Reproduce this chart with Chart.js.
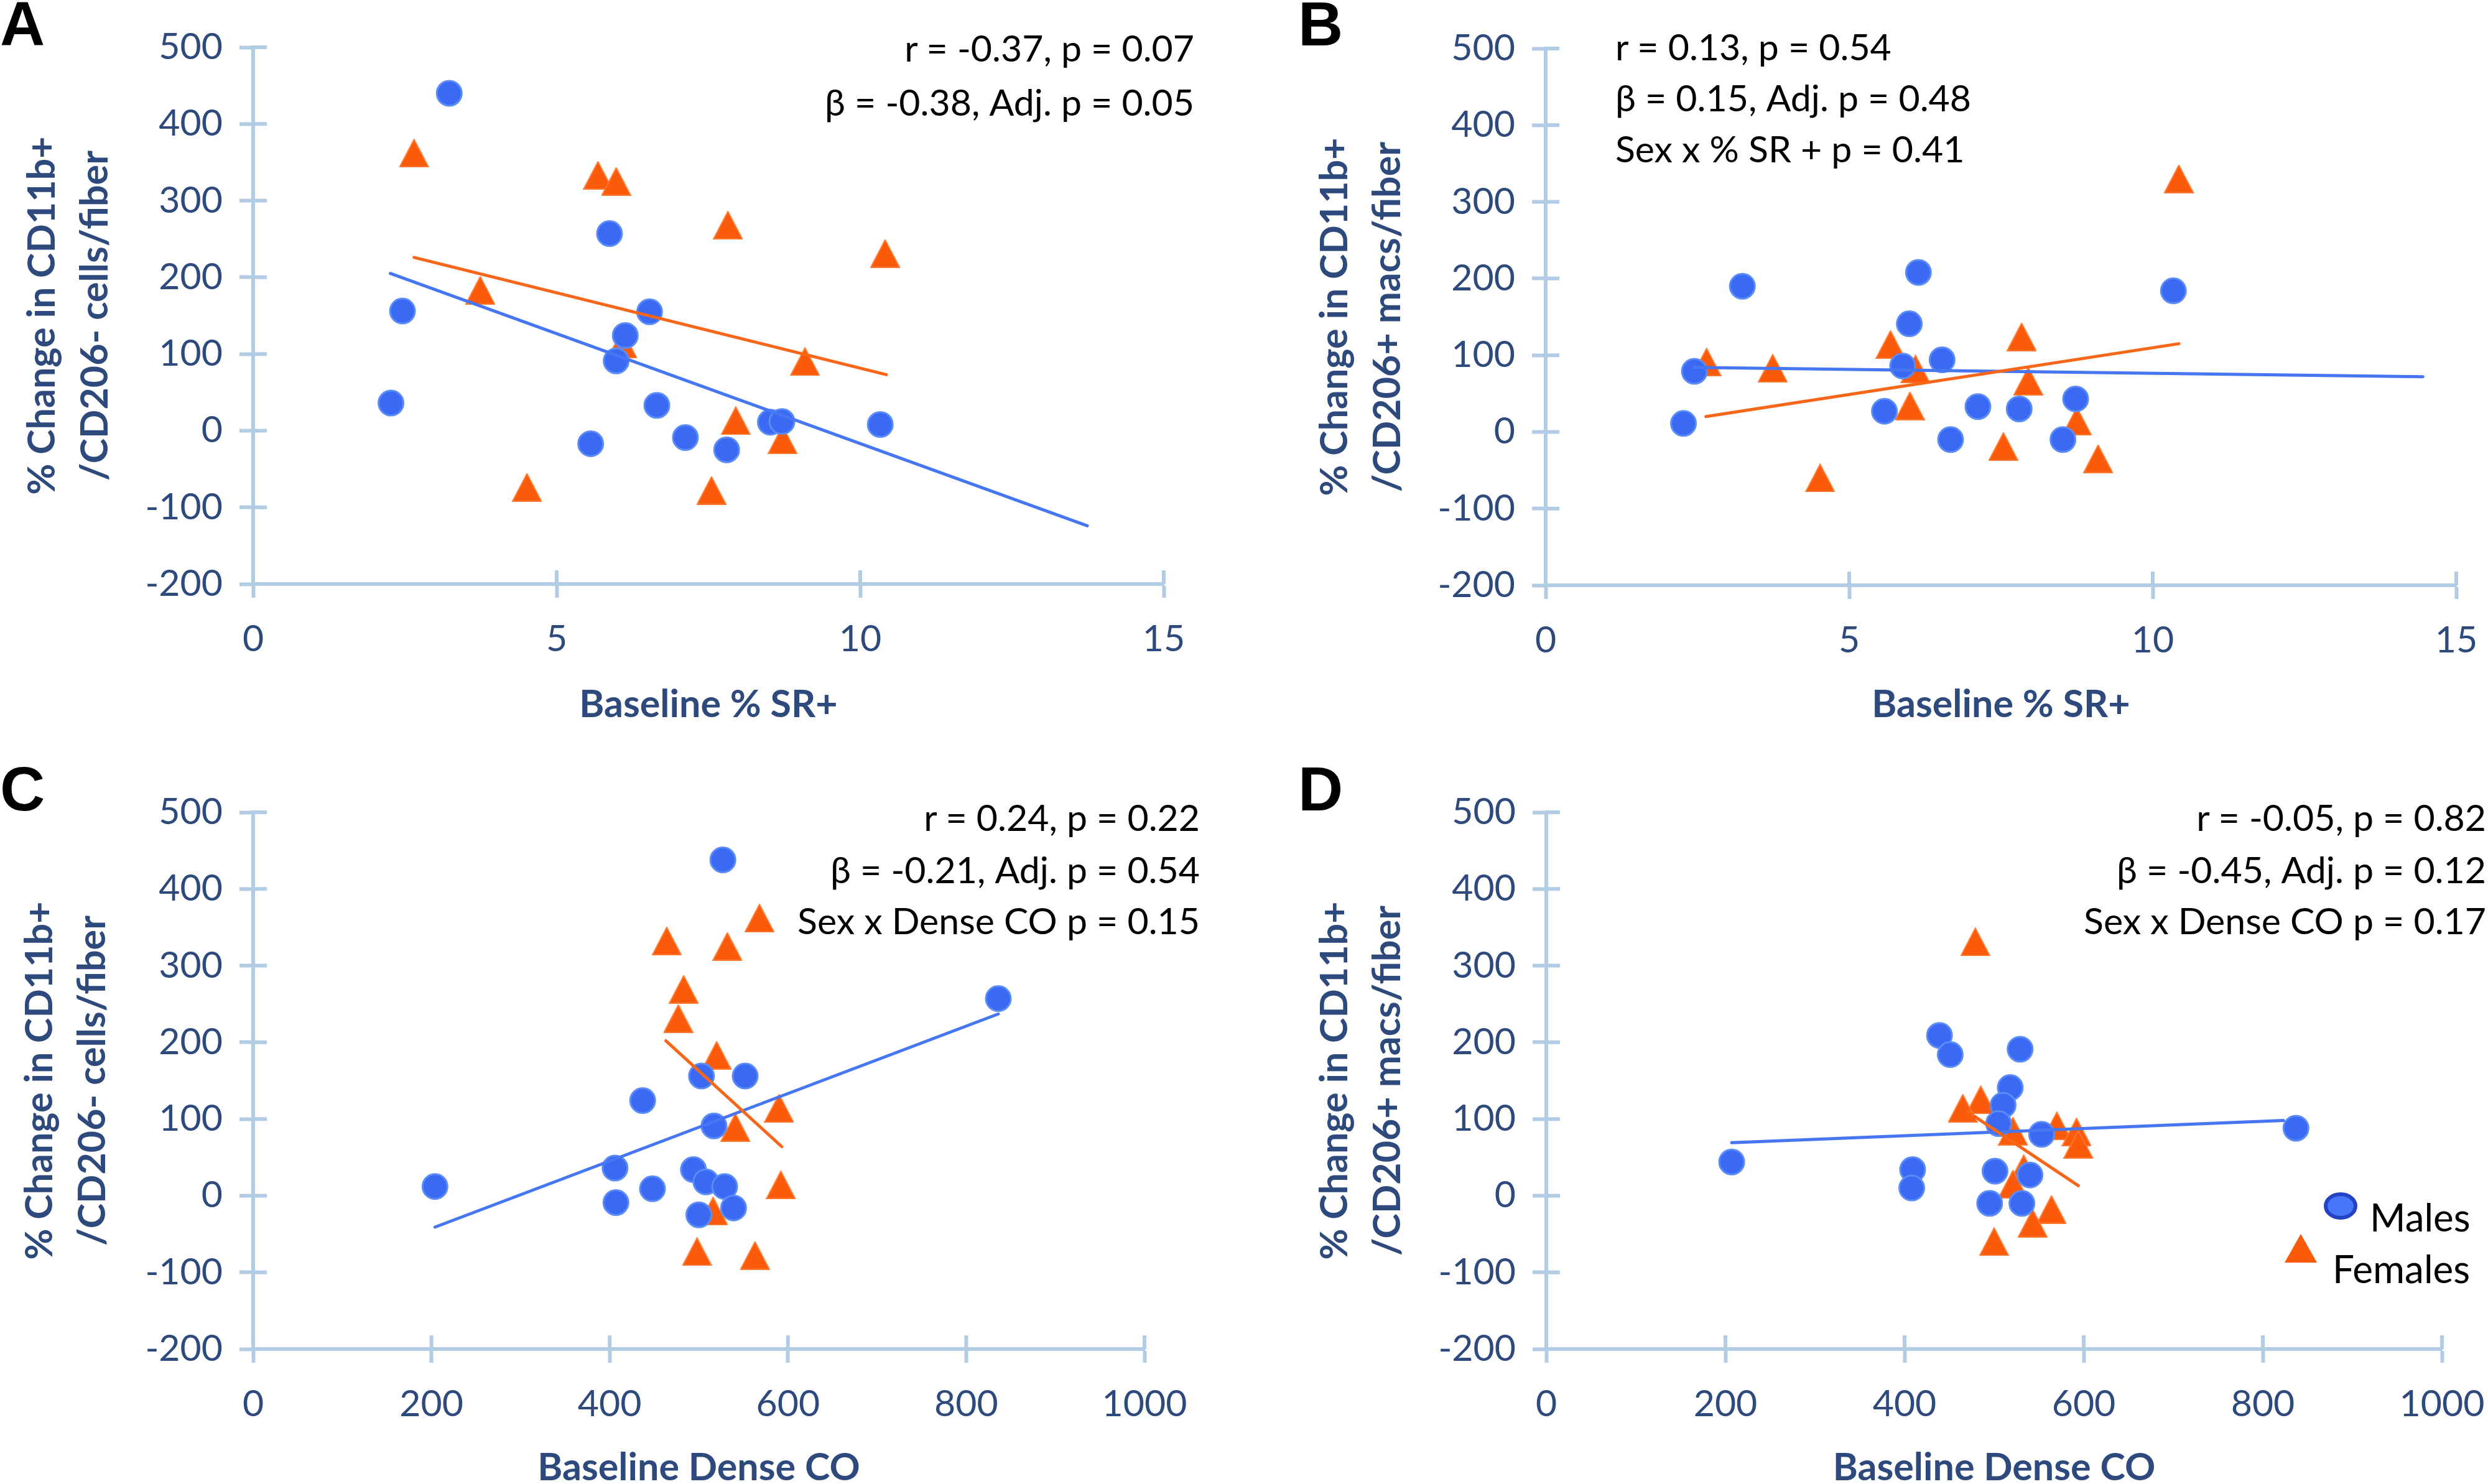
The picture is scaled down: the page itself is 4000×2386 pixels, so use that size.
<!DOCTYPE html>
<html><head><meta charset="utf-8">
<script src="https://cdn.jsdelivr.net/npm/chart.js@4.4.1/dist/chart.umd.min.js"></script>
<style>
html,body{margin:0;padding:0;background:#fff;}
body{width:4000px;height:2386px;position:relative;overflow:hidden;}
canvas{position:absolute;}
.t{position:absolute;white-space:nowrap;font-family:Lato,sans-serif;line-height:1.2;color:#000;}
.lt{position:absolute;font-family:"Liberation Sans",Arial,sans-serif;font-weight:bold;font-size:100px;line-height:1.117;color:#000;}
</style></head><body>
<canvas id="cA" width="2000" height="1193" style="left:0px;top:0px"></canvas>
<canvas id="cB" width="2150" height="1193" style="left:2000px;top:0px"></canvas>
<canvas id="cC" width="2000" height="1193" style="left:0px;top:1193px"></canvas>
<canvas id="cD" width="2150" height="1193" style="left:2000px;top:1193px"></canvas>
<script>
// ---------------- DATA ----------------
const srTicks = [0, 5, 10, 15];
const coTicks = [0, 200, 400, 600, 800, 1000];
const yTicks = [-200, -100, 0, 100, 200, 300, 400, 500];

// Panel A: Baseline % SR+ vs % change CD11b+/CD206- cells/fiber
const maleA_x = [3.23, 5.87, 2.46, 6.53, 6.13, 5.98, 2.27, 6.65, 8.52, 8.71, 10.33, 5.56, 7.12, 7.80];
const maleA_y = [440, 257, 156, 155, 124, 91, 36, 33, 11, 12, 8, -17, -9, -25];
const femA_x = [2.65, 5.68, 5.98, 7.82, 10.41, 3.74, 6.08, 9.09, 7.95, 8.72, 4.51, 7.55];
const femA_y = [362, 333, 325, 268, 231, 183, 113, 90, 13, -12, -74, -78];
const maleFitA_x = [2.26, 13.74], maleFitA_y = [205, -124];
const femFitA_x = [2.65, 10.43], femFitA_y = [226, 73];

// Panel B: Baseline % SR+ vs % change CD11b+/CD206+ macs/fiber
const maleB_x = [6.14, 3.24, 10.34, 5.99, 6.53, 5.88, 2.45, 2.27, 5.58, 7.12, 7.80, 8.73, 6.67, 8.52];
const maleB_y = [208, 190, 184, 141, 94, 86, 79, 11, 27, 33, 30, 43, -10, -10];
const femB_x = [10.43, 7.84, 5.68, 2.65, 3.74, 6.09, 7.95, 6.00, 8.75, 7.54, 9.10, 4.52];
const femB_y = [330, 124, 114, 91, 83, 82, 66, 34, 14, -19, -35, -60];
const maleFitB_x = [2.45, 14.45], maleFitB_y = [84, 72];
const femFitB_x = [2.64, 10.43], femFitB_y = [20, 115];

// Panel C: Baseline Dense CO vs % change CD11b+/CD206- cells/fiber
const maleC_x = [527, 836, 503, 552, 437, 517, 406, 494, 204, 448, 508, 529, 407, 539, 500];
const maleC_y = [438, 257, 156, 156, 124, 91, 36, 34, 12, 9, 18, 12, -9, -16, -25];
const femC_x = [568, 464, 532, 483, 477, 520, 590, 541, 592, 516, 498, 563];
const femC_y = [362, 332, 325, 269, 231, 183, 114, 89, 14, -20, -73, -78];
const maleFitC_x = [204, 836], maleFitC_y = [-41, 237];
const femFitC_x = [463, 593], femFitC_y = [202, 64];

// Panel D: Baseline Dense CO vs % change CD11b+/CD206+ macs/fiber
const maleD_x = [439, 451, 529, 518, 510, 505, 553, 837, 207, 409, 408, 501, 540, 495, 531];
const maleD_y = [209, 184, 191, 141, 118, 94, 80, 88, 44, 34, 10, 32, 27, -10, -10];
const femD_x = [479, 485, 465, 570, 592, 521, 594, 533, 521, 564, 543, 500];
const femD_y = [331, 125, 114, 91, 83, 84, 67, 35, 15, -18, -36, -60];
const maleFitD_x = [207, 823], maleFitD_y = [69, 98];
const femFitD_x = [471, 594], femFitD_y = [109, 13];

const yTitleCells = ["% Change in CD11b+", "/CD206- cells/fiber"];
const yTitleMacs = ["% Change in CD11b+", "/CD206+ macs/fiber"];
const xTitleSR = "Baseline % SR+";
const xTitleCO = "Baseline Dense CO";
const statsA = ["r = -0.37, p = 0.07", "β = -0.38, Adj. p = 0.05"];
const statsB = ["r = 0.13, p = 0.54", "β = 0.15, Adj. p = 0.48", "Sex x % SR + p = 0.41"];
const statsC = ["r = 0.24, p = 0.22", "β = -0.21, Adj. p = 0.54", "Sex x Dense CO p = 0.15"];
const statsD = ["r = -0.05, p = 0.82", "β = -0.45, Adj. p = 0.12", "Sex x Dense CO p = 0.17"];
const seriesNames = ["Males", "Females"];
const panelLetters = ["A", "B", "C", "D"];

// ---------------- STYLE ----------------
const AXIS = '#B3CCE5', TICKTXT = '#2E4A7C';
const BLUE_FILL = '#3A6AF4', BLUE_EDGE = '#5B8CF8', BLUE_LINE = '#4676F2';
const ORANGE_FILL = '#FA5A0A', ORANGE_EDGE = '#FF7A30', ORANGE_LINE = '#F8661A';
const FONT = 'Lato';

function triImg(w, h, fill, stroke) {
  const c = document.createElement('canvas'); c.width = w + 2; c.height = h + 2;
  const g = c.getContext('2d');
  g.beginPath(); g.moveTo((w + 2) / 2, 1); g.lineTo(w + 1, h + 1); g.lineTo(1, h + 1); g.closePath();
  g.fillStyle = fill; g.fill(); g.lineWidth = 2; g.strokeStyle = stroke; g.stroke();
  return c;
}
const TRI = triImg(46, 44, ORANGE_FILL, ORANGE_EDGE);
const zip = (xs, ys) => xs.map((x, i) => ({x, y: ys[i]}));

const innerTicks = {
  id: 'innerTicks',
  beforeDatasetsDraw(chart) {
    const {ctx, chartArea: ca, scales: {x, y}} = chart;
    ctx.save(); ctx.strokeStyle = AXIS; ctx.lineWidth = 6; ctx.beginPath();
    y.ticks.forEach(t => { const p = y.getPixelForValue(t.value); ctx.moveTo(ca.left, p); ctx.lineTo(ca.left + 22, p); });
    x.ticks.forEach(t => { const p = x.getPixelForValue(t.value); ctx.moveTo(p, ca.bottom); ctx.lineTo(p, ca.bottom - 22); });
    ctx.stroke(); ctx.restore();
  }
};

function legendPlugin(cx, cy) {
  return {
    id: 'legendD',
    afterDraw(chart) {
      const ctx = chart.ctx; ctx.save();
      ctx.beginPath(); ctx.ellipse(3763 - cx, 1939 - cy, 24, 19, 0, 0, Math.PI * 2);
      ctx.fillStyle = '#4677F8'; ctx.fill(); ctx.lineWidth = 6; ctx.strokeStyle = '#2443C4'; ctx.stroke();
      const tx = 3699 - cx, ty = 2008 - cy;
      ctx.beginPath(); ctx.moveTo(tx, ty - 24); ctx.lineTo(tx + 26, ty + 22); ctx.lineTo(tx - 26, ty + 22); ctx.closePath();
      ctx.fillStyle = ORANGE_FILL; ctx.fill();
      ctx.restore();
    }
  };
}

function makePanel(id, geo, xticks, d, yTitle, xTitle, extraPlugins) {
  const cv = document.getElementById(id);
  const W = cv.width, H = cv.height;
  const a = geo.area, c = geo.canvas;
  const lhX = 61, pbX = -10;
  const xBottom = geo.xTitleY - c.y + lhX / 2 + pbX;
  const xAxisH = xBottom - (a.b - c.y);
  const lhY = 85;
  const ds = [
    {label: seriesNames[1], data: zip(d.fx, d.fy), pointStyle: TRI, pointRadius: 22, pointHoverRadius: 22, order: 4, showLine: false},
    {label: seriesNames[0], data: zip(d.mx, d.my), pointStyle: 'circle', pointRadius: 20, pointHoverRadius: 20,
      backgroundColor: BLUE_FILL, borderColor: BLUE_EDGE, borderWidth: 3, order: 3, showLine: false},
    {label: 'Males fit', type: 'line', data: zip(d.mfx, d.mfy), borderColor: BLUE_LINE, borderWidth: 5, pointRadius: 0, fill: false, order: 2, borderCapStyle: 'round'},
    {label: 'Females fit', type: 'line', data: zip(d.ffx, d.ffy), borderColor: ORANGE_LINE, borderWidth: 5, pointRadius: 0, fill: false, order: 1, borderCapStyle: 'round'}
  ];
  return new Chart(cv, {
    type: 'scatter',
    data: {datasets: ds},
    options: {
      responsive: false, animation: false, devicePixelRatio: 1,
      layout: {padding: {left: 0, top: a.t - c.y, right: c.x + W - a.r, bottom: H - xBottom}},
      plugins: {legend: {display: false}, tooltip: {enabled: false}},
      scales: {
        x: {
          type: 'linear', position: 'bottom', min: xticks[0], max: xticks[xticks.length - 1],
          afterBuildTicks: s => { s.ticks = xticks.map(v => ({value: v})); },
          afterFit: s => { s.height = xAxisH; },
          grid: {drawOnChartArea: false, drawTicks: true, tickLength: 22, tickWidth: 6, tickColor: AXIS, color: AXIS},
          border: {display: true, color: AXIS, width: 6},
          ticks: {color: TICKTXT, font: {family: FONT, size: 59}, padding: 32, maxRotation: 0, autoSkip: false, callback: v => String(v)},
          title: {display: true, text: xTitle, color: TICKTXT, font: {family: FONT, size: 61, weight: 'bold', lineHeight: 1}, padding: {top: 0, bottom: pbX}}
        },
        y: {
          type: 'linear', position: 'left', min: yTicks[0], max: yTicks[yTicks.length - 1],
          afterBuildTicks: s => { s.ticks = yTicks.map(v => ({value: v})); },
          afterFit: s => { s.width = a.l - c.x; },
          grid: {drawOnChartArea: false, drawTicks: true, tickLength: 22, tickWidth: 6, tickColor: AXIS, color: AXIS},
          border: {display: true, color: AXIS, width: 6},
          ticks: {color: TICKTXT, font: {family: FONT, size: 59}, padding: 27, autoSkip: false, callback: v => String(v)},
          title: {display: true, text: yTitle, color: TICKTXT, font: {family: FONT, size: 61, weight: 'bold', lineHeight: lhY / 61}, padding: {top: geo.yTitleX - c.x - lhY / 2, bottom: 0}}
        }
      }
    },
    plugins: [innerTicks].concat(extraPlugins || [])
  });
}

const geoA = {canvas: {x: 0, y: 0}, area: {l: 407, t: 76, r: 1871, b: 939}, yTitleX: 68, xTitleY: 1133};
const geoB = {canvas: {x: 2000, y: 0}, area: {l: 2485, t: 78, r: 3949, b: 941}, yTitleX: 2146, xTitleY: 1133};
const geoC = {canvas: {x: 0, y: 1193}, area: {l: 407, t: 1306, r: 1840, b: 2169}, yTitleX: 64, xTitleY: 2360};
const geoD = {canvas: {x: 2000, y: 1193}, area: {l: 2486, t: 1306, r: 3926, b: 2169}, yTitleX: 2146, xTitleY: 2360};

makePanel('cA', geoA, srTicks, {mx: maleA_x, my: maleA_y, fx: femA_x, fy: femA_y, mfx: maleFitA_x, mfy: maleFitA_y, ffx: femFitA_x, ffy: femFitA_y}, yTitleCells, xTitleSR);
makePanel('cB', geoB, srTicks, {mx: maleB_x, my: maleB_y, fx: femB_x, fy: femB_y, mfx: maleFitB_x, mfy: maleFitB_y, ffx: femFitB_x, ffy: femFitB_y}, yTitleMacs, xTitleSR);
makePanel('cC', geoC, coTicks, {mx: maleC_x, my: maleC_y, fx: femC_x, fy: femC_y, mfx: maleFitC_x, mfy: maleFitC_y, ffx: femFitC_x, ffy: femFitC_y}, yTitleCells, xTitleCO);
makePanel('cD', geoD, coTicks, {mx: maleD_x, my: maleD_y, fx: femD_x, fy: femD_y, mfx: maleFitD_x, mfy: maleFitD_y, ffx: femFitD_x, ffy: femFitD_y}, yTitleMacs, xTitleCO, [legendPlugin(2000, 1193)]);

// ---------------- TEXT ----------------
function addText(txt, opts) {
  const el = document.createElement('div');
  el.className = opts.cls || 't';
  el.textContent = txt;
  if (opts.size) el.style.fontSize = opts.size + 'px';
  el.style.top = opts.top + 'px';
  if (opts.right !== undefined) { el.style.right = (4000 - opts.right) + 'px'; el.style.textAlign = 'right'; }
  else el.style.left = opts.left + 'px';
  document.body.appendChild(el);
}
const F = 59;
function statBlock(lines, ys, edge, alignRight) {
  lines.forEach((s, i) => {
    const top = ys[i] - 0.628 * F;
    if (alignRight) addText(s, {size: F, top, right: edge}); else addText(s, {size: F, top, left: edge});
  });
}
statBlock(statsA, [79, 166], 1920, true);
statBlock(statsB, [77, 159, 241], 2597, false);
statBlock(statsC, [1316, 1400, 1482], 1929, true);
statBlock(statsD, [1316, 1400, 1482], 3997, true);

addText(seriesNames[0], {size: 62, top: 1980 - 0.987 * 62, left: 3810});
addText(seriesNames[1], {size: 62, top: 2063 - 0.987 * 62, left: 3750});

const letterPos = [[0, 2], [2087, 2], [0, 1232], [2087, 1232]];
panelLetters.forEach((L, i) => addText(L, {cls: 'lt', top: letterPos[i][1] - 19, left: letterPos[i][0]}));
</script>
</body></html>
